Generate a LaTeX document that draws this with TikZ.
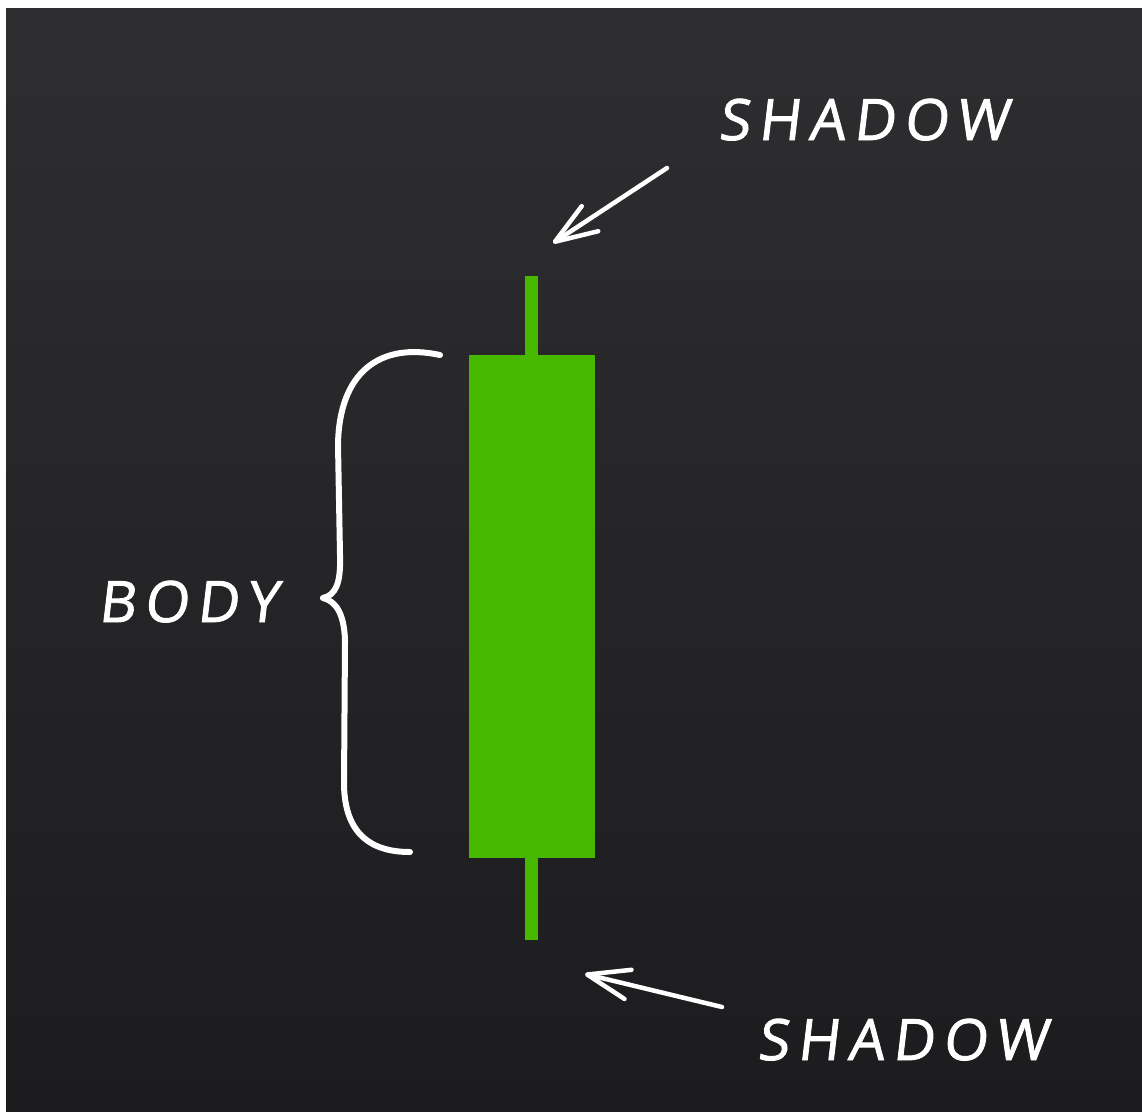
\documentclass[tikz,border=0pt]{standalone}
\usepackage{fontspec}
\newfontfamily\hand[LetterSpace=15, FakeSlant=0.12, FakeBold=1.5]{Open Sans}
\usetikzlibrary{arrows.meta}
\definecolor{bgtop}{HTML}{2E2D2F}
\definecolor{bgbot}{HTML}{1C1B1D}
\definecolor{candle}{HTML}{47B800}
\tikzset{
  lbl/.style={text=white, inner sep=0pt, font=\hand\fontsize{57}{60}\selectfont},
  arr/.style={draw=white, line width=4.5pt, line cap=round, line join=round,
    -{Straight Barb[length=42pt, width=30pt, line width=4.5pt, round]}},
  brace/.style={draw=white, line width=6pt, line cap=round, line join=round},
  wick/.style={draw=candle, line width=13pt},
  candlebody/.style={fill=candle, draw=none, minimum width=126pt, minimum height=503pt, inner sep=0pt}
}
\begin{document}
\begin{tikzpicture}[x=1pt, y=-1pt]
\useasboundingbox (0,0) rectangle (1142,1111);
\fill[white] (0,0) rectangle (1142,1111);
\shade[top color=bgtop, bottom color=bgbot] (6,8) rectangle (1142,1111);
% candle
\node[candlebody] (body) at (532,606.5) {};
\coordinate (wtop) at (531.5,276);
\coordinate (wbot) at (531.5,940);
\draw[wick] (body.north -| wtop) -- (wtop);
\draw[wick] (body.south -| wbot) -- (wbot);
% labels
\node[lbl, anchor=base west] (shtop) at (718,140) {SHADOW};
\node[lbl, anchor=base west] (shbot) at (757,1060) {SHADOW};
\node[lbl, anchor=base west] (bodylbl) at (98,622) {BODY};
% arrows
\coordinate (a1s) at (667,168);
\coordinate (a1e) at (553,243);
\coordinate (a2s) at (722,1007);
\coordinate (a2e) at (585,974);
\draw[arr] (a1s) -- (a1e);
\draw[arr] (a2s) -- (a2e);
% brace
\coordinate (bt) at (440,355);
\coordinate (bm) at (323,598);
\coordinate (bb) at (410,852);
\draw[brace] (bt) .. controls (380,342) and (339,372) .. (338,445)
  -- (340,555) .. controls (341,585) and (335,595) .. (bm)
  .. controls (335,601) and (344,612) .. (345,640)
  -- (344,785) .. controls (345,835) and (372,852) .. (bb);
\end{tikzpicture}
\end{document}
